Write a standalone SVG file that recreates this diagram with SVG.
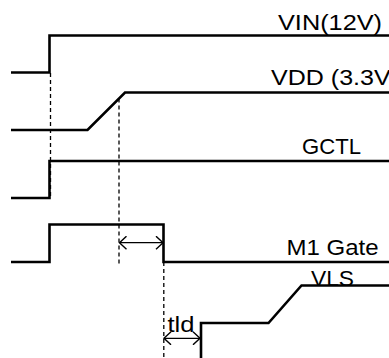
<svg xmlns="http://www.w3.org/2000/svg" width="389" height="358" viewBox="0 0 389 358">
<style>
.sig{fill:none;stroke:#000;stroke-width:2.6;stroke-linejoin:miter}
.dash{fill:none;stroke:#000;stroke-width:1.3;stroke-dasharray:4 3}
.dim{fill:none;stroke:#000;stroke-width:1.2}
.lbl{font-family:"Liberation Sans",Arial,sans-serif;font-size:22px;fill:#000}
</style>
<defs>
<marker id="ah" viewBox="0 0 10 14" refX="8" refY="7" markerWidth="10" markerHeight="14" markerUnits="userSpaceOnUse" orient="auto-start-reverse">
<polyline points="1,0.5 8,7 1,13.5" fill="none" stroke="#000" stroke-width="1.4"/>
</marker>
</defs>
<rect width="389" height="358" fill="#fff"/>
<g id="VIN">
<path class="sig" d="M11,72.5 H49.5 V35.5 H389"/>
<text class="lbl" x="278" y="30" textLength="104" lengthAdjust="spacingAndGlyphs">VIN(12V)</text>
</g>
<g id="VDD">
<path class="sig" d="M11,130 H87.5 L125,92.5 H389"/>
<text class="lbl" x="271" y="85" textLength="128" lengthAdjust="spacingAndGlyphs">VDD (3.3V)</text>
</g>
<g id="GCTL">
<path class="sig" d="M11,198 H49.5 V161 H389"/>
<text class="lbl" x="302" y="153.5" textLength="59" lengthAdjust="spacingAndGlyphs">GCTL</text>
</g>
<g id="M1Gate">
<path class="sig" d="M11,262 H49.5 V224.5 H163.5 V262 H389"/>
<text class="lbl" x="286.5" y="254.5" textLength="92" lengthAdjust="spacingAndGlyphs">M1 Gate</text>
</g>
<g id="VLS">
<path class="sig" d="M201,358 V323 H268.5 L301.5,285.5 H389"/>
<text class="lbl" x="311" y="285.5" textLength="43" lengthAdjust="spacingAndGlyphs">VLS</text>
</g>
<g id="connectors">
<path class="dash" d="M50.5,73 V198"/>
<path class="dash" d="M119,98.5 V264"/>
<path class="dash" d="M163.8,262 V358"/>
<path class="dim" d="M119.5,242.7 H163" marker-start="url(#ah)" marker-end="url(#ah)"/>
<path class="dim" d="M164,338.3 H200" marker-start="url(#ah)" marker-end="url(#ah)"/>
<text class="lbl" x="167.5" y="331.5" textLength="27" lengthAdjust="spacingAndGlyphs">tld</text>
</g>
</svg>
